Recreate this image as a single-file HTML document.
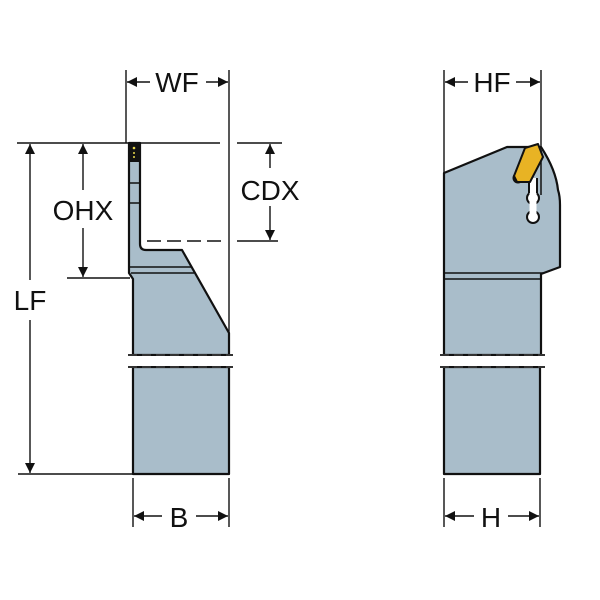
<!DOCTYPE html>
<html><head><meta charset="utf-8"><style>
html,body{margin:0;padding:0;background:#fff;width:600px;height:600px;overflow:hidden}
svg{display:block}
text{font-family:"Liberation Sans",Arial,sans-serif;font-size:28px;fill:#111}
</style></head><body>
<svg width="600" height="600" viewBox="0 0 600 600" xmlns="http://www.w3.org/2000/svg">
<defs>
<marker id="a" viewBox="0 0 10 10" refX="10" refY="5" markerWidth="17" markerHeight="10" markerUnits="userSpaceOnUse" orient="auto"><path d="M0,0 L10,5 L0,10 z" fill="#111"/></marker>
</defs>
<g stroke="#111" stroke-width="1.4" fill="none">
<line x1="126" y1="70" x2="126" y2="143"/>
<line x1="229" y1="70" x2="229" y2="335"/>
<line x1="17" y1="143" x2="220" y2="143"/>
<line x1="237" y1="143" x2="282" y2="143"/>
<line x1="147" y1="241" x2="222" y2="241" stroke-dasharray="14,6"/>
<line x1="237" y1="241" x2="278" y2="241"/>
<line x1="67" y1="278" x2="130" y2="278"/>
<line x1="18" y1="474" x2="133" y2="474"/>
<line x1="133" y1="478" x2="133" y2="527"/>
<line x1="229" y1="478" x2="229" y2="527"/>
<line x1="150" y1="82" x2="127" y2="82" marker-end="url(#a)"/>
<line x1="206" y1="82" x2="228" y2="82" marker-end="url(#a)"/>
<line x1="30" y1="280" x2="30" y2="144" marker-end="url(#a)"/>
<line x1="30" y1="320" x2="30" y2="473" marker-end="url(#a)"/>
<line x1="83" y1="190" x2="83" y2="144" marker-end="url(#a)"/>
<line x1="83" y1="228" x2="83" y2="277" marker-end="url(#a)"/>
<line x1="270" y1="168" x2="270" y2="144" marker-end="url(#a)"/>
<line x1="270" y1="206" x2="270" y2="240" marker-end="url(#a)"/>
<line x1="162" y1="516" x2="134" y2="516" marker-end="url(#a)"/>
<line x1="196" y1="516" x2="228" y2="516" marker-end="url(#a)"/>
<line x1="444" y1="70" x2="444" y2="173"/>
<line x1="541" y1="70" x2="541" y2="150"/>
<line x1="444" y1="478" x2="444" y2="527"/>
<line x1="540" y1="478" x2="540" y2="527"/>
<line x1="468" y1="82" x2="445" y2="82" marker-end="url(#a)"/>
<line x1="516" y1="82" x2="540" y2="82" marker-end="url(#a)"/>
<line x1="474" y1="516" x2="445" y2="516" marker-end="url(#a)"/>
<line x1="508" y1="516" x2="539" y2="516" marker-end="url(#a)"/>
</g>
<g stroke="#111" stroke-width="2.2" fill="#a9bdca" stroke-linejoin="round">
<path d="M129,143 L140,143 L140,244 Q140,250 146,250 L182,250 L229,333 L229,355 L133,355 L133,279 L129,273 Z"/>
<path d="M133,367 L229,367 L229,474 L133,474 Z"/>
</g>
<g stroke="#111" stroke-width="1.5">
<line x1="129" y1="267" x2="191" y2="267"/>
<line x1="131" y1="273" x2="194" y2="273"/>
<line x1="129" y1="183" x2="140" y2="183"/>
<line x1="129" y1="203" x2="140" y2="203"/>
</g>
<rect x="129" y="143" width="11" height="19" fill="#111"/>
<circle cx="134" cy="148" r="1.3" fill="#e8d84a"/><circle cx="134" cy="153" r="1" fill="#e8d84a"/><circle cx="134" cy="157" r="1" fill="#e8d84a"/>
<rect x="126" y="356" width="108" height="10" fill="#fff"/>
<g stroke="#333" stroke-width="2" stroke-dasharray="9,5">
<line x1="128" y1="355" x2="233" y2="355"/>
<line x1="128" y1="367" x2="233" y2="367"/>
</g>
<g stroke="#111" stroke-width="2.2" fill="#a9bdca" stroke-linejoin="round">
<path d="M444,173 L507,147 L541,147 Q556,170 558,190 Q560,196 560,205 L560,267 L541,274 L541,355 L444,355 Z"/>
<path d="M444,367 L540,367 L540,474 L444,474 Z"/>
</g>
<g stroke="#111" stroke-width="1.5">
<line x1="444" y1="273" x2="543" y2="273"/>
<line x1="444" y1="279" x2="541" y2="279"/>
<line x1="541" y1="150" x2="541" y2="195"/>
</g>
<g stroke="#111" stroke-width="2" fill="#fff">
<circle cx="533" cy="198" r="6"/>
<circle cx="533" cy="217" r="6"/>
<rect x="529.5" y="178" width="7" height="36" stroke="none"/>
<line x1="529" y1="178" x2="529" y2="193"/>
<line x1="537" y1="178" x2="537" y2="193"/>
<circle cx="518" cy="178" r="4.5" fill="#a9bdca"/>
</g>
<path d="M525,148 L538,144 L543,157 L530,182 L517,182 L514,176 Z" fill="#e8b324" stroke="#111" stroke-width="2" stroke-linejoin="round"/>
<rect x="438" y="356" width="108" height="10" fill="#fff"/>
<g stroke="#333" stroke-width="2" stroke-dasharray="9,5">
<line x1="440" y1="355" x2="545" y2="355"/>
<line x1="440" y1="367" x2="545" y2="367"/>
</g>
<text x="177" y="92" text-anchor="middle">WF</text>
<text x="83" y="220" text-anchor="middle">OHX</text>
<text x="270" y="200" text-anchor="middle">CDX</text>
<text x="30" y="310" text-anchor="middle">LF</text>
<text x="179" y="527" text-anchor="middle">B</text>
<text x="492" y="92" text-anchor="middle">HF</text>
<text x="491" y="527" text-anchor="middle">H</text>
</svg>
</body></html>
